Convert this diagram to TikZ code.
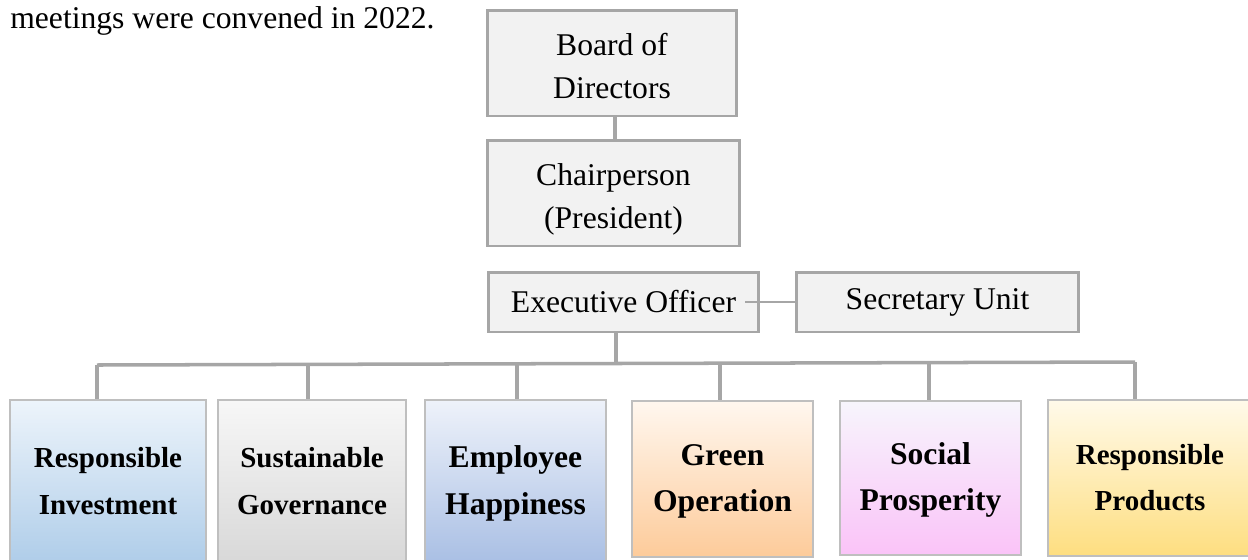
\documentclass[tikz,border=0pt]{standalone}
\usepackage{fontspec}
\setmainfont{Liberation Serif}
\definecolor{boxgray}{HTML}{A6A6A6}
\definecolor{edgegray}{HTML}{BFBFBF}
\definecolor{topfill}{HTML}{F2F2F2}
\begin{document}
\begin{tikzpicture}[x=0.02cm, y=-0.02cm,
        topbox/.style={draw=boxgray, line width=1.7pt, fill=topfill, align=center, inner sep=0pt, font=\fontsize{18}{24.5}\selectfont},
        unitbox/.style={draw=edgegray, line width=0.7pt, align=center, inner sep=0pt, font=\bfseries\fontsize{18}{26.5}\selectfont},
        link/.style={draw=boxgray, line width=2pt}]
        \useasboundingbox (0, 0) rectangle (1248, 559);

        \node[anchor=base west, font=\fontsize{18}{22}\selectfont, inner sep=0pt] (intro) at (10, 28) {meetings were convened in 2022.};

        \node[topbox, minimum width=5cm, minimum height=2.12cm] (board) at (612, 63) {\rule{0pt}{23pt}Board of\\Directors\strut};
        \node[topbox, minimum width=5.06cm, minimum height=2.12cm] (chair) at (613.5, 193) {\rule{0pt}{23pt}Chairperson\\(President)\strut};
        \node[topbox, minimum width=5.42cm, minimum height=1.2cm] (exec) at (623.5, 302) {Executive Officer};
        \node[topbox, minimum width=5.66cm, minimum height=1.2cm] (sec) at (937.5, 302) {Secretary Unit};

        \node[unitbox, top color={rgb,255:red,237;green,244;blue,251}, bottom color={rgb,255:red,175;green,205;blue,233}, minimum width=3.92cm, minimum height=3.26cm, font=\bfseries\fontsize{16.5}{26.5}\selectfont] (invest) at (108, 481.5) {\strut Responsible\\Investment\strut};
        \node[unitbox, top color={rgb,255:red,247;green,247;blue,247}, bottom color={rgb,255:red,216;green,216;blue,216}, minimum width=3.76cm, minimum height=3.26cm, font=\bfseries\fontsize{16.5}{26.5}\selectfont] (govern) at (312, 481.5) {\strut Sustainable\\Governance\strut};
        \node[unitbox, top color={rgb,255:red,238;green,242;blue,250}, bottom color={rgb,255:red,169;green,191;blue,228}, minimum width=3.62cm, minimum height=3.26cm] (happy) at (515.5, 481.5) {\strut Employee\\Happiness\strut};
        \node[unitbox, top color={rgb,255:red,255;green,247;blue,239}, bottom color={rgb,255:red,253;green,203;blue,154}, minimum width=3.62cm, minimum height=3.12cm] (green) at (722.5, 479) {\strut Green\\Operation\strut};
        \node[unitbox, top color={rgb,255:red,247;green,245;blue,252}, bottom color={rgb,255:red,250;green,195;blue,248}, minimum width=3.62cm, minimum height=3.08cm] (social) at (930.5, 478) {\strut Social\\Prosperity\strut};
        \node[unitbox, top color={rgb,255:red,255;green,250;blue,234}, bottom color={rgb,255:red,254;green,222;blue,128}, minimum width=4.08cm, minimum height=3.12cm, font=\bfseries\fontsize{16.5}{26.5}\selectfont] (product) at (1150, 478) {\strut Responsible\\Products\strut};

        \coordinate (hub) at (616, 364);
        \coordinate (d1) at (97, 365);
        \coordinate (d2) at (308, 364.5);
        \coordinate (d3) at (517, 364);
        \coordinate (d4) at (720, 363.5);
        \coordinate (d5) at (929, 363);
        \coordinate (d6) at (1135, 362);

        \draw[link] (board.south -| 615, 0) -- (chair.north -| 615, 0);
        \draw[link] (exec.south -| hub) -- (hub);
        \draw[link, line width=1.5pt] ([xshift=-0.3cm]exec.east) -- (sec.west);
        \draw[link] (d1) -- (d6);
        \draw[link] (d1) -- (d1 |- invest.north);
        \draw[link] (d2) -- (d2 |- govern.north);
        \draw[link] (d3) -- (d3 |- happy.north);
        \draw[link] (d4) -- (d4 |- green.north);
        \draw[link] (d5) -- (d5 |- social.north);
        \draw[link] (d6) -- (d6 |- product.north);
    \end{tikzpicture}
\end{document}
